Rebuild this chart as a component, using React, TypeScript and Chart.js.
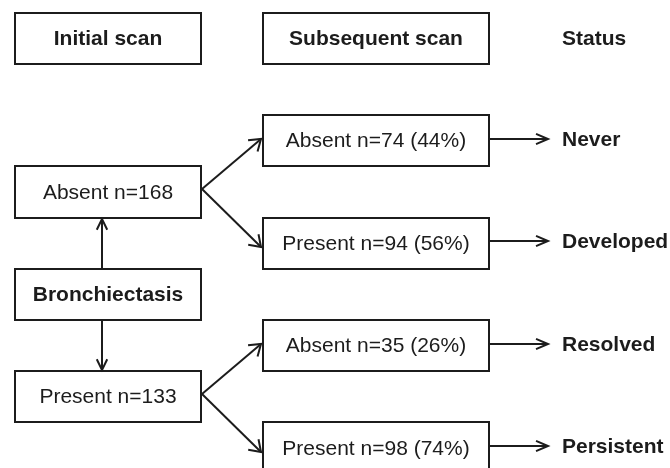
import React, { useEffect, useRef } from "react";
import { Chart, registerables } from "chart.js";

Chart.register(...registerables);

// ---- data ----
const headerLabels = ["Initial scan", "Subsequent scan", "Status"];
const rootLabel = "Bronchiectasis";
const initialStates = ["Absent", "Present"];
const initialCounts = [168, 133];
const subsequentStates = ["Absent", "Present", "Absent", "Present"];
const subsequentCounts = [74, 94, 35, 98];
const subsequentPercents = [44, 56, 26, 74];
const statusLabels = ["Never", "Developed", "Resolved", "Persistent"];

// ---- layout (scale units: x in px-like units, y in half-row units) ----
const COLS = {
  leftL: 15,
  leftR: 201,
  midL: 263,
  midR: 489,
  arrowX: 102,
  statusX: 562,
  statusArrowEnd: 548,
};
const ROWS = {
  header: 0,
  root: 5,
  initial: [3, 7],
  subsequent: [2, 4, 6, 8],
  half: 0.5,
};

const INK = "#1c1c1c";
const FONT = "'Liberation Sans', Arial, sans-serif";

function arrow(
  ctx: CanvasRenderingContext2D,
  x1: number,
  y1: number,
  x2: number,
  y2: number,
  len: number,
  spread: number
) {
  ctx.beginPath();
  ctx.moveTo(x1, y1);
  ctx.lineTo(x2, y2);
  ctx.stroke();
  const ang = Math.atan2(y2 - y1, x2 - x1);
  ctx.beginPath();
  ctx.moveTo(x2 - len * Math.cos(ang - spread), y2 - len * Math.sin(ang - spread));
  ctx.lineTo(x2, y2);
  ctx.lineTo(x2 - len * Math.cos(ang + spread), y2 - len * Math.sin(ang + spread));
  ctx.stroke();
}

const flowPlugin = {
  id: "flow",
  afterDatasetsDraw(chart: any) {
    const ctx: CanvasRenderingContext2D = chart.ctx;
    const xs = chart.scales.x;
    const ys = chart.scales.y;
    const px = (v: number) => Math.round(xs.getPixelForValue(v));
    const py = (v: number) => Math.round(ys.getPixelForValue(v));

    ctx.save();
    ctx.strokeStyle = INK;
    ctx.fillStyle = INK;
    ctx.lineWidth = 2;
    ctx.lineJoin = "miter";
    ctx.lineCap = "butt";

    const box = (l: number, r: number, row: number, text: string, bold: boolean) => {
      const x1 = px(l), x2 = px(r);
      const y1 = py(row - ROWS.half), y2 = py(row + ROWS.half);
      ctx.fillStyle = "#ffffff";
      ctx.fillRect(x1, y1, x2 - x1, y2 - y1);
      ctx.strokeStyle = INK;
      ctx.strokeRect(x1, y1, x2 - x1, y2 - y1);
      ctx.fillStyle = INK;
      ctx.font = `${bold ? "bold " : ""}21px ${FONT}`;
      ctx.textAlign = "center";
      ctx.textBaseline = "middle";
      ctx.fillText(text, (x1 + x2) / 2, (y1 + y2) / 2 + 1);
    };

    // headers
    box(COLS.leftL, COLS.leftR, ROWS.header, headerLabels[0], true);
    box(COLS.midL, COLS.midR, ROWS.header, headerLabels[1], true);
    ctx.font = `bold 21px ${FONT}`;
    ctx.textAlign = "left";
    ctx.textBaseline = "middle";
    ctx.fillText(headerLabels[2], px(COLS.statusX), py(ROWS.header) + 1);

    // root + initial
    box(COLS.leftL, COLS.leftR, ROWS.root, rootLabel, true);
    initialStates.forEach((s, i) => {
      box(COLS.leftL, COLS.leftR, ROWS.initial[i], `${s} n=${initialCounts[i]}`, false);
    });

    // vertical arrows from root
    const ax = px(COLS.arrowX);
    arrow(ctx, ax, py(ROWS.root - ROWS.half), ax, py(ROWS.initial[0] + ROWS.half) + 1, 12, 0.45);
    arrow(ctx, ax, py(ROWS.root + ROWS.half), ax, py(ROWS.initial[1] - ROWS.half) - 1, 12, 0.45);

    // subsequent boxes
    subsequentStates.forEach((s, i) => {
      box(
        COLS.midL,
        COLS.midR,
        ROWS.subsequent[i],
        `${s} n=${subsequentCounts[i]} (${subsequentPercents[i]}%)`,
        false
      );
    });

    // diagonal arrows
    initialStates.forEach((_, i) => {
      const sx = px(COLS.leftR) + 1;
      const sy = py(ROWS.initial[i]) - 3;
      [0, 1].forEach((k) => {
        const j = i * 2 + k;
        const ex = px(COLS.midL) - 2;
        const ey = py(ROWS.subsequent[j]) + (k === 0 ? -2 : 4);
        arrow(ctx, sx, sy, ex, ey, 13, 0.6);
      });
    });

    // status arrows + labels
    statusLabels.forEach((lab, i) => {
      const y = py(ROWS.subsequent[i]) - 2;
      arrow(ctx, px(COLS.midR), y, px(COLS.statusArrowEnd), y, 13, 0.4);
      ctx.font = `bold 21px ${FONT}`;
      ctx.textAlign = "left";
      ctx.textBaseline = "middle";
      ctx.fillText(lab, px(COLS.statusX), y + 1);
    });

    ctx.restore();
  },
};

export default function App() {
  const ref = useRef<HTMLCanvasElement | null>(null);
  useEffect(() => {
    if (!ref.current) return;
    const anchors = [
      ...ROWS.initial.map((r) => ({ x: (COLS.leftL + COLS.leftR) / 2, y: r })),
      ...ROWS.subsequent.map((r) => ({ x: (COLS.midL + COLS.midR) / 2, y: r })),
    ];
    const chart = new Chart(ref.current, {
      type: "scatter",
      data: {
        datasets: [
          {
            label: "nodes",
            data: anchors,
            pointRadius: 0,
            showLine: false,
          },
        ],
      },
      options: {
        animation: false,
        responsive: true,
        maintainAspectRatio: false,
        layout: { padding: 0 },
        scales: {
          x: { type: "linear", min: 0, max: 670, display: false },
          y: { type: "linear", min: -0.752, max: 8.39, reverse: true, display: false },
        },
        plugins: {
          legend: { display: false },
          tooltip: { enabled: false },
        },
      },
      plugins: [flowPlugin],
    });
    return () => chart.destroy();
  }, []);

  return (
    <div
      style={{
        position: "fixed",
        left: 0,
        top: 0,
        width: 670,
        height: 468,
        background: "#ffffff",
      }}
    >
      <canvas ref={ref} />
    </div>
  );
}
